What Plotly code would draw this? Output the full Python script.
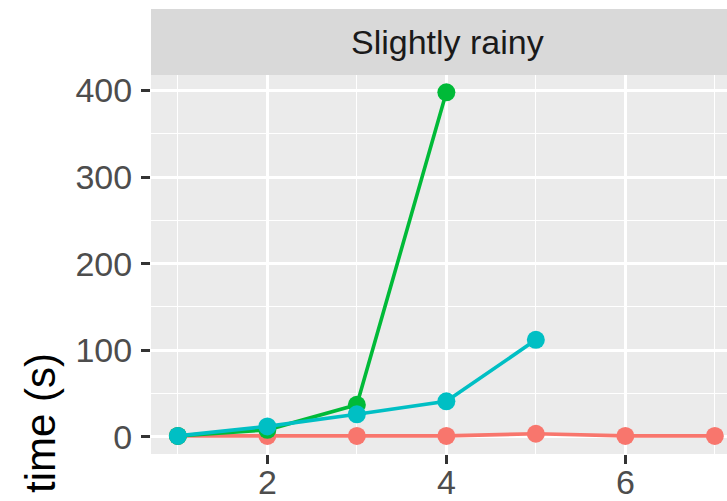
import plotly.graph_objects as go

# Solve times per problem size, one series per method
sizes_red = [1, 2, 3, 4, 5, 6, 7]
time_red = [1, 1, 1, 1, 3.5, 1, 1]

sizes_green = [1, 2, 3, 4]
time_green = [1, 8, 37, 398]

sizes_cyan = [1, 2, 3, 4, 5]
time_cyan = [1, 12, 26, 41, 112]

x_ticks = [2, 4, 6]
x_minor = [1, 3, 5, 7]
y_ticks = [0, 100, 200, 300, 400]
y_minor = [50, 150, 250, 350]

panel_title = "Slightly rainy"
y_title = "time (s)"

W, H = 727, 501
L, R, T, B = 151, 0, 75, 47
plot_h = H - T - B
plot_w = W - L - R

fig = go.Figure()
for xs, ys, col in [
    (sizes_red, time_red, "#F8766D"),
    (sizes_green, time_green, "#00BA38"),
    (sizes_cyan, time_cyan, "#00BFC4"),
]:
    fig.add_trace(go.Scatter(
        x=xs, y=ys, mode="lines+markers",
        line=dict(color=col, width=3.6),
        marker=dict(color=col, size=18),
        showlegend=False, cliponaxis=False,
    ))

font = "Liberation Sans, Arial, sans-serif"

fig.update_layout(
    width=W, height=H,
    margin=dict(l=L, r=R, t=T, b=B, pad=0, autoexpand=False),
    paper_bgcolor="white",
    plot_bgcolor="#EBEBEB",
    font=dict(family=font),
    xaxis=dict(
        range=[0.7, 0.7 + plot_w / 89.5],
        automargin=False,
        tickmode="array", tickvals=x_ticks,
        showgrid=True, gridcolor="white", gridwidth=2.8,
        zeroline=False,
        ticks="outside", ticklen=9, tickwidth=2.8, tickcolor="#333333",
        tickfont=dict(size=34, color="#4D4D4D"),
        ticklabelstandoff=-11,
        minor=dict(tickvals=x_minor, showgrid=True, gridcolor="white",
                   gridwidth=1.4, ticks=""),
    ),
    yaxis=dict(
        range=[-19.9, 418],
        automargin=False,
        tickmode="array", tickvals=y_ticks,
        showgrid=True, gridcolor="white", gridwidth=2.8,
        zeroline=False,
        ticks="outside", ticklen=9, tickwidth=2.8, tickcolor="#333333",
        tickfont=dict(size=34, color="#4D4D4D"),
        ticklabelstandoff=2,
        minor=dict(tickvals=y_minor, showgrid=True, gridcolor="white",
                   gridwidth=1.4, ticks=""),
    ),
    shapes=[dict(
        type="rect", xref="paper", yref="paper",
        x0=0, x1=1, y0=1, y1=1 + 66 / plot_h,
        fillcolor="#D9D9D9", line=dict(width=0), layer="below",
    )],
    annotations=[
        dict(text=panel_title, xref="paper", yref="paper",
             x=(447 - L) / plot_w, y=1 + 33 / plot_h,
             showarrow=False, xanchor="center", yanchor="middle",
             font=dict(size=34, color="#1A1A1A")),
        dict(text=y_title, xref="paper", yref="paper",
             x=(40 - L) / plot_w, y=(H - B - 423) / plot_h,
             showarrow=False, textangle=-90,
             xanchor="center", yanchor="middle",
             font=dict(size=42, color="black")),
    ],
)

fig.write_html("out.html")
